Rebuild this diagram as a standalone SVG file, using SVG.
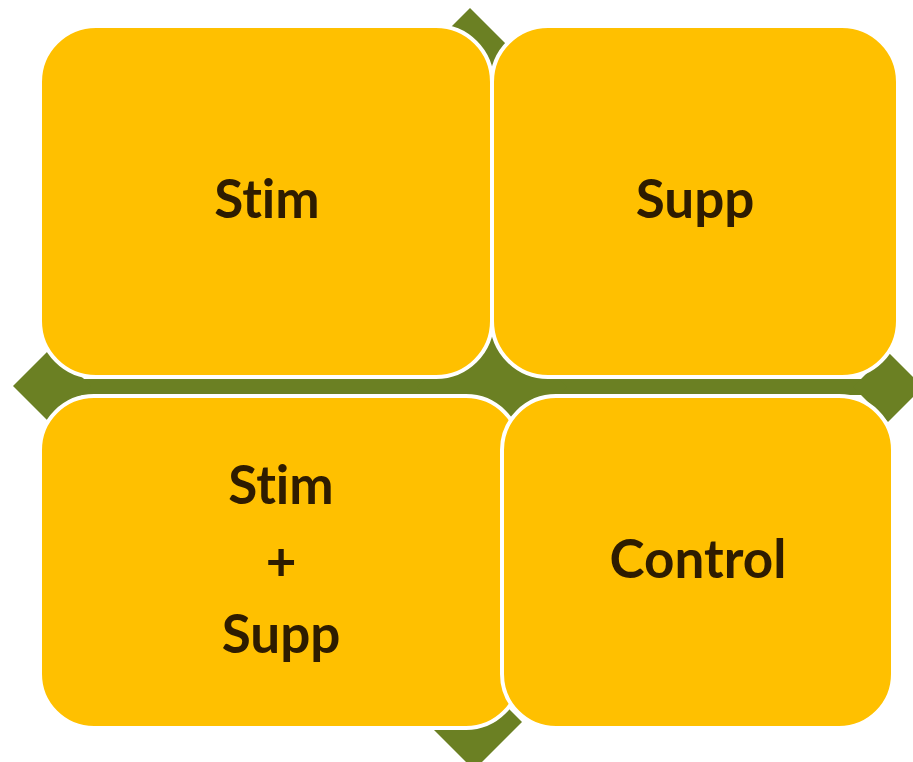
<svg xmlns="http://www.w3.org/2000/svg" width="913" height="762" viewBox="0 0 913 762">
  <style>
    .cross { fill: #6b8023; }
    .box { fill: #ffc000; stroke: #ffffff; stroke-width: 4; }
    .label { font-family: Lato, "Open Sans", "Liberation Sans", sans-serif; font-weight: 700; font-size: 53px; fill: #2e1c00; text-anchor: middle; font-variant-ligatures: none; }
  </style>

  <!-- four-way arrow behind the quadrants -->
  <g id="cross">
    <rect class="cross" x="30" y="379" width="870" height="16"/>
    <rect class="cross" x="462" y="50" width="20" height="672"/>
    <polygon class="cross" points="13,386 52,347 91,386 52,425"/>
    <polygon class="cross" points="853,387 888,352 923,387 888,422"/>
    <polygon class="cross" points="470,8 512,50 470,92 428,50"/>
    <polygon class="cross" points="474,674 522,722 474,770 426,722"/>
    <polygon class="cross" points="492,312 567,387 492,462 417,387"/>
  </g>

  <g id="stim">
    <rect class="box" x="40" y="26" width="452" height="351" rx="56" ry="56"/>
    <text class="label" x="267" y="218">Stim</text>
  </g>

  <g id="supp">
    <rect class="box" x="492" y="26" width="406" height="351" rx="56" ry="56"/>
    <text class="label" x="695" y="218">Supp</text>
  </g>

  <g id="stim-supp">
    <rect class="box" x="40" y="396" width="480" height="332" rx="54" ry="54"/>
    <text class="label" x="281" y="504">Stim</text>
    <text class="label" x="281" y="581">+</text>
    <text class="label" x="281" y="653">Supp</text>
  </g>

  <g id="control">
    <rect class="box" x="502" y="396" width="391" height="332" rx="54" ry="54"/>
    <text class="label" x="698" y="578">Control</text>
  </g>
</svg>
